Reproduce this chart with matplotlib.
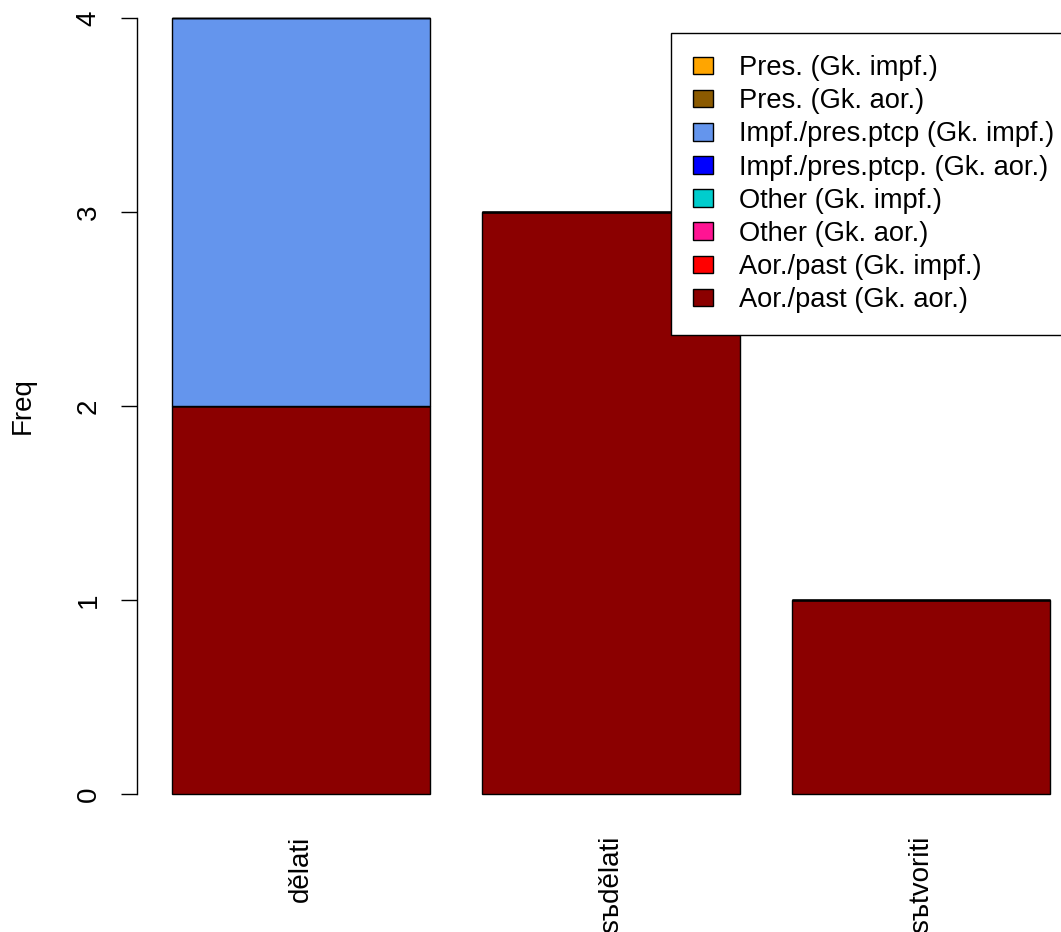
import matplotlib
matplotlib.use("Agg")
import matplotlib.pyplot as plt
import numpy as np

plt.rcParams['font.family'] = ['Liberation Sans', 'DejaVu Sans']

# verbs on the x axis
verbs = ['dělati', 'sъdělati', 'sъtvoriti']

# series in legend order (top of legend = top of stack)
series_labels = [
    'Pres. (Gk. impf.)',
    'Pres. (Gk. aor.)',
    'Impf./pres.ptcp (Gk. impf.)',
    'Impf./pres.ptcp. (Gk. aor.)',
    'Other (Gk. impf.)',
    'Other (Gk. aor.)',
    'Aor./past (Gk. impf.)',
    'Aor./past (Gk. aor.)',
]
series_colors = ['#FFA500', '#8B5A00', '#6495ED', '#0000FF',
                 '#00CDCD', '#FF1493', '#FF0000', '#8B0000']

pres_impf = [0, 0, 0]
pres_aor = [0, 0, 0]
impf_impf = [2, 0, 0]
impf_aor = [0, 0, 0]
other_impf = [0, 0, 0]
other_aor = [0, 0, 0]
aor_impf = [0, 0, 0]
aor_aor = [2, 3, 1]

series_values = [pres_impf, pres_aor, impf_impf, impf_aor,
                 other_impf, other_aor, aor_impf, aor_aor]

W, H = 1061, 932
fig = plt.figure(figsize=(W / 100, H / 100), dpi=100)

# R-style plot region (extends slightly past figure edges like the original)
left_px, right_px = 136.9, 1085.1
top_px, bottom_px = -13, 825
ax_w = right_px - left_px
ax = fig.add_axes([left_px / W, (H - bottom_px) / H,
                   ax_w / W, (bottom_px - top_px) / H])

# bar layout as in R barplot: width 1, space 0.2
width = 1.0
space = 0.2
x_left = space + np.arange(len(verbs)) * (width + space)
x_mid = x_left + width / 2

bottom = np.zeros(len(verbs))
handles = {}
# stack from the last legend entry upward
for lab, col, vals in zip(series_labels[::-1], series_colors[::-1], series_values[::-1]):
    vals = np.array(vals, dtype=float)
    h = ax.bar(x_mid, vals, width=width, bottom=bottom, color=col,
               edgecolor='black', linewidth=1.0, label=lab)
    handles[lab] = h
    bottom += vals

xmin, xmax = x_left[0], x_left[-1] + width
pad_x = 0.04 * (xmax - xmin)
ax.set_xlim(xmin - pad_x, xmax + pad_x)
ymax = bottom.max()
ax.set_ylim(-0.04 * ymax, ymax * 1.04)

for s in ['top', 'right', 'bottom']:
    ax.spines[s].set_visible(False)
ax.spines['left'].set_bounds(0, 4)
ax.spines['left'].set_linewidth(1.0)

ax.set_yticks([0, 1, 2, 3, 4])
ax.tick_params(axis='y', length=11.5, width=1.0, pad=14, labelsize=20)
for t in ax.get_yticklabels():
    t.set_rotation(90)
    t.set_va('center')

ax.set_xticks(x_mid)
ax.set_xticklabels(verbs, rotation=90, fontsize=20, va='top', ha='center')
ax.tick_params(axis='x', length=0, pad=8)

ax.set_ylabel('Freq', fontsize=20)
ax.yaxis.set_label_coords((36 - left_px) / ax_w, 0.5)

hs = [handles[l] for l in series_labels]
leg = fig.legend(hs, series_labels, loc='upper left',
                 bbox_to_anchor=(671 / W, 1 - 33 / H),
                 bbox_transform=fig.transFigure,
                 fontsize=19.6, frameon=True, fancybox=False,
                 borderaxespad=0, borderpad=0.82, labelspacing=0.26,
                 handlelength=0.74, handleheight=0.6, handletextpad=0.92)
leg.get_frame().set_edgecolor('black')
leg.get_frame().set_linewidth(1.0)
leg.get_frame().set_alpha(1)

fig.savefig('out.png', dpi=100, facecolor='white')
